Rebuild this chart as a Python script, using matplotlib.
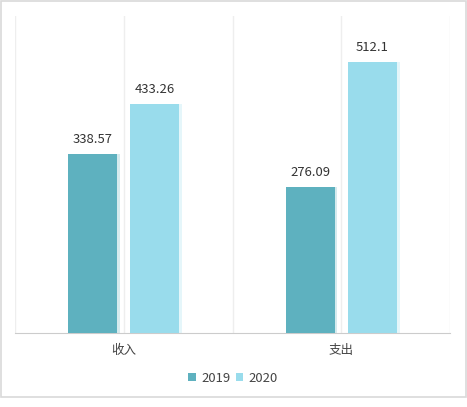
import matplotlib.pyplot as plt
import matplotlib.patches as patches
import numpy as np

plt.rcParams['font.family'] = ['Noto Sans CJK SC', 'DejaVu Sans']

categories = ['收入', '支出']
years = ['2019', '2020']
values_2019 = [338.57, 276.09]
values_2020 = [433.26, 512.1]
colors = ['#5EB1BF', '#99DCEC']

fig = plt.figure(figsize=(4.67, 4.07), dpi=100)
ax = fig.add_axes([15 / 467, 1 - 333 / 407, 435 / 467, 317 / 407])

x = np.arange(len(categories))
width = 0.226
offset = 0.143

for vals, col, off, yr in [(values_2019, colors[0], -offset, years[0]),
                           (values_2020, colors[1], offset, years[1])]:
    # faint shadow to the right of each bar
    ax.bar(x + off + 0.012, vals, width, color=col, alpha=0.25, zorder=2)
    bars = ax.bar(x + off, vals, width, color=col, label=yr, zorder=3)
    for b, v in zip(bars, vals):
        ax.text(b.get_x() + b.get_width() / 2, v + 28, f'{v:g}',
                ha='center', va='center', fontsize=9.4, color='#333333')

ax.set_xlim(-0.5, len(categories) - 0.5)
ax.set_ylim(0, 600)
for gx in np.arange(-0.5, len(categories), 0.5):
    ax.axvline(gx, color='#eeeeee', lw=1, zorder=1)

ax.set_xticks(x)
ax.set_xticklabels(categories, fontsize=9, color='#444444')
ax.tick_params(axis='x', length=0, pad=8)
ax.set_yticks([])
for s in ['top', 'left', 'right']:
    ax.spines[s].set_visible(False)
ax.spines['bottom'].set_color('#cccccc')

leg = fig.legend(loc='center', bbox_to_anchor=(233 / 467, 1 - 378 / 407), ncol=2,
                 frameon=False, fontsize=9.4, handlelength=0.6, handleheight=0.6,
                 handletextpad=0.4, columnspacing=0.4)
for t in leg.get_texts():
    t.set_color('#444444')

fig.patches.append(patches.Rectangle((1 / 467, 1 - 397 / 407), 465 / 467, 396 / 407,
                                     transform=fig.transFigure, fill=False,
                                     edgecolor='#d9d9d9', lw=1.2))

fig.savefig('out.png', dpi=100)
